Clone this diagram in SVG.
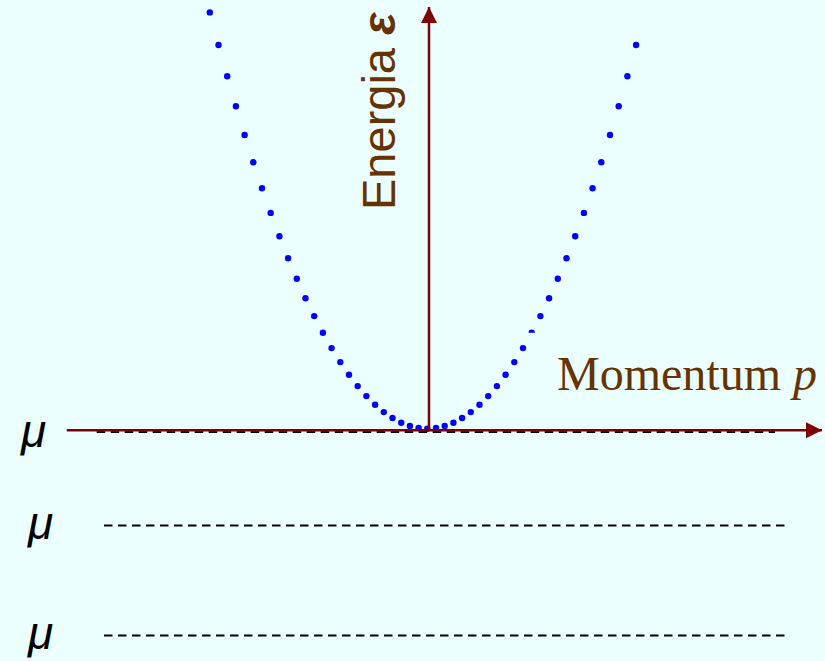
<svg xmlns="http://www.w3.org/2000/svg" width="825" height="661" viewBox="0 0 825 661">
<defs>
<style>
.dot{fill:#0000FF}
.dash{stroke:#000;stroke-width:2;stroke-dasharray:8.5 5.5;fill:none}
.axis{stroke:#800000;stroke-width:2.5;fill:none}
.mu{font-family:"Liberation Sans",Arial,sans-serif;font-style:italic;font-size:46px;fill:#000}
.lbl{fill:#663300}
</style>
<marker id="ah" markerUnits="userSpaceOnUse" markerWidth="16" markerHeight="16" viewBox="0 0 16 16" refX="16" refY="8" orient="auto">
<path d="M0,0 L16,8 L0,16 z" fill="#800000"/>
</marker>
</defs>
<rect width="825" height="661" fill="#EBFFFF"/>
<g id="curve">
<circle class="dot" cx="209.8" cy="12.4" r="3.2"/>
<circle class="dot" cx="218.5" cy="45.0" r="3.2"/>
<circle class="dot" cx="227.2" cy="76.3" r="3.2"/>
<circle class="dot" cx="235.9" cy="106.3" r="3.2"/>
<circle class="dot" cx="244.6" cy="135.0" r="3.2"/>
<circle class="dot" cx="253.3" cy="162.3" r="3.2"/>
<circle class="dot" cx="262.0" cy="188.2" r="3.2"/>
<circle class="dot" cx="270.7" cy="212.9" r="3.2"/>
<circle class="dot" cx="279.4" cy="236.2" r="3.2"/>
<circle class="dot" cx="288.1" cy="258.2" r="3.2"/>
<circle class="dot" cx="296.8" cy="278.8" r="3.2"/>
<circle class="dot" cx="305.5" cy="298.2" r="3.2"/>
<circle class="dot" cx="314.2" cy="316.1" r="3.2"/>
<circle class="dot" cx="322.9" cy="332.8" r="3.2"/>
<circle class="dot" cx="331.6" cy="348.1" r="3.2"/>
<circle class="dot" cx="340.3" cy="362.1" r="3.2"/>
<circle class="dot" cx="349.0" cy="374.8" r="3.2"/>
<circle class="dot" cx="357.7" cy="386.1" r="3.2"/>
<circle class="dot" cx="366.4" cy="396.1" r="3.2"/>
<circle class="dot" cx="375.1" cy="404.7" r="3.2"/>
<circle class="dot" cx="383.8" cy="412.1" r="3.2"/>
<circle class="dot" cx="392.5" cy="418.0" r="3.2"/>
<circle class="dot" cx="401.2" cy="422.7" r="3.2"/>
<circle class="dot" cx="409.9" cy="426.0" r="3.2"/>
<circle class="dot" cx="418.6" cy="428.0" r="3.2"/>
<circle class="dot" cx="427.3" cy="428.7" r="3.2"/>
<circle class="dot" cx="436.0" cy="428.0" r="3.2"/>
<circle class="dot" cx="444.7" cy="426.0" r="3.2"/>
<circle class="dot" cx="453.4" cy="422.7" r="3.2"/>
<circle class="dot" cx="462.1" cy="418.0" r="3.2"/>
<circle class="dot" cx="470.8" cy="412.1" r="3.2"/>
<circle class="dot" cx="479.5" cy="404.7" r="3.2"/>
<circle class="dot" cx="488.2" cy="396.1" r="3.2"/>
<circle class="dot" cx="496.9" cy="386.1" r="3.2"/>
<circle class="dot" cx="505.6" cy="374.8" r="3.2"/>
<circle class="dot" cx="514.3" cy="362.1" r="3.2"/>
<circle class="dot" cx="523.0" cy="348.1" r="3.2"/>
<path class="dot" d="M528.5,332.8 A3.2,3.2 0 0 1 534.9,332.8 Z"/>
<circle class="dot" cx="540.4" cy="316.1" r="3.2"/>
<circle class="dot" cx="549.1" cy="298.2" r="3.2"/>
<circle class="dot" cx="557.8" cy="278.8" r="3.2"/>
<circle class="dot" cx="566.5" cy="258.2" r="3.2"/>
<circle class="dot" cx="575.2" cy="236.2" r="3.2"/>
<circle class="dot" cx="583.9" cy="212.9" r="3.2"/>
<circle class="dot" cx="592.6" cy="188.2" r="3.2"/>
<circle class="dot" cx="601.3" cy="162.3" r="3.2"/>
<circle class="dot" cx="610.0" cy="135.0" r="3.2"/>
<circle class="dot" cx="618.7" cy="106.3" r="3.2"/>
<circle class="dot" cx="627.4" cy="76.3" r="3.2"/>
<circle class="dot" cx="636.1" cy="45.0" r="3.2"/>
</g>
<g id="levels">
<line class="dash" x1="96.7" y1="432" x2="775" y2="432"/>
<line class="dash" x1="104" y1="525.5" x2="786" y2="525.5"/>
<line class="dash" x1="104" y1="635.5" x2="786" y2="635.5"/>
</g>
<g id="axes">
<line id="axis-p" class="axis" x1="66.7" y1="430.3" x2="822" y2="430.3" marker-end="url(#ah)"/>
<line id="axis-e" class="axis" x1="429" y1="430.3" x2="429" y2="7" marker-end="url(#ah)"/>
</g>
<g id="labels">
<text id="label-energy" class="lbl" transform="translate(395,210) rotate(-90)" font-family="'Liberation Sans',Arial,sans-serif" font-size="47">Energia <tspan font-style="italic" font-weight="bold">ε</tspan></text>
<text id="label-momentum" class="lbl" x="557" y="390" font-family="'Liberation Serif','Times New Roman',serif" font-size="48">Momentum <tspan font-style="italic">p</tspan></text>
<text id="mu1" class="mu" x="21" y="447">μ</text>
<text id="mu2" class="mu" x="28" y="539">μ</text>
<text id="mu3" class="mu" x="28" y="649">μ</text>
</g>
</svg>
